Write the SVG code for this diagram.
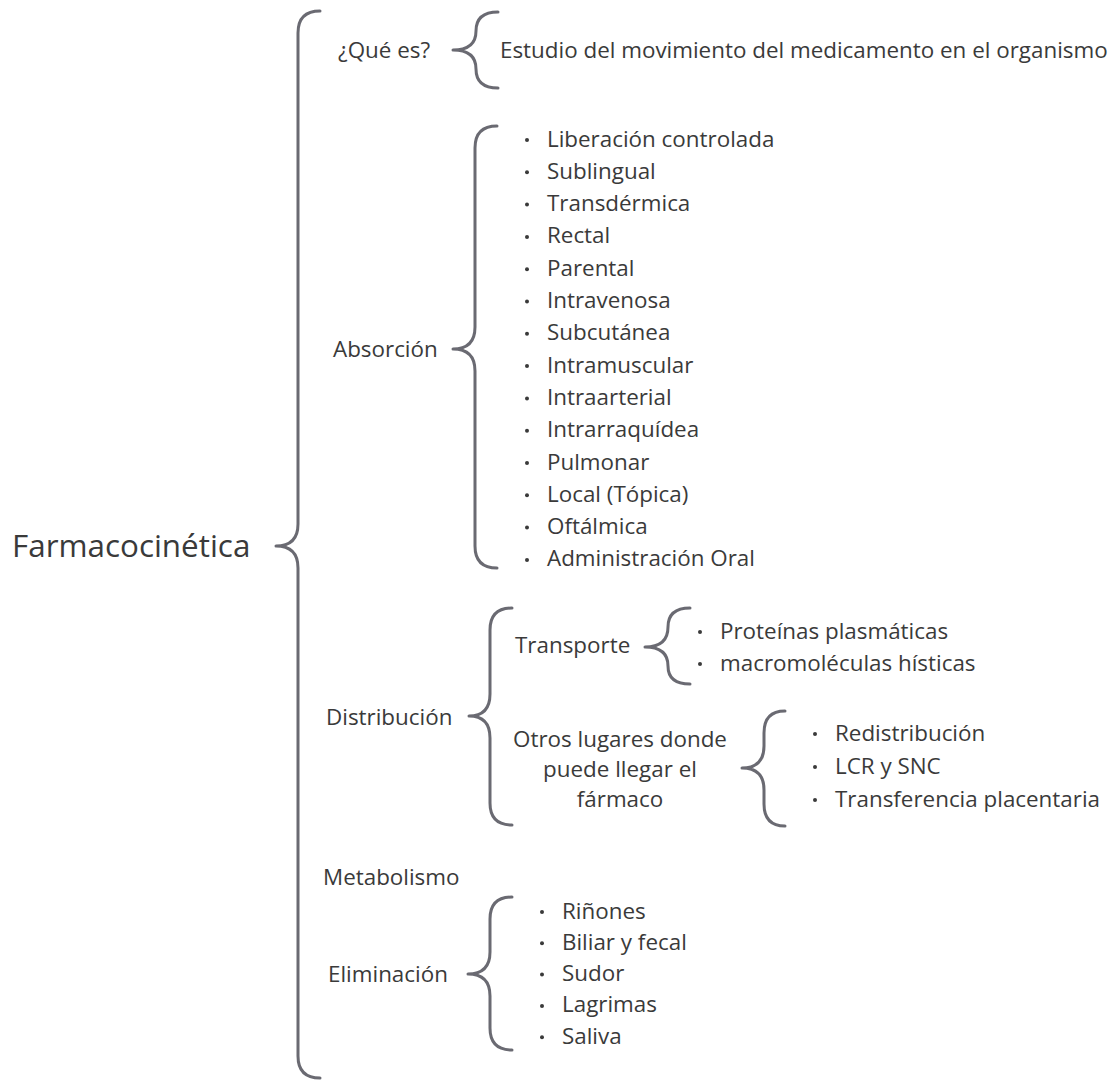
<svg xmlns="http://www.w3.org/2000/svg" width="1120" height="1080" viewBox="0 0 1120 1080">
<style>
text{font-family:"Open Sans","Noto Sans","Liberation Sans",sans-serif;fill:#3a3a3a;font-size:22.4px}
.title{font-size:31.4px}
.br{fill:none;stroke:#6a6a72;stroke-width:3;stroke-linecap:round;stroke-linejoin:round}
.dot{fill:#3a3a3a}
</style>
<rect width="1120" height="1080" fill="#ffffff"/>
<g id="connectors">
<path class="br" d="M320,11 Q298,11 298,33 L298,524 Q298,546 276,546 Q298,546 298,568 L298,1056 Q298,1078 320,1078"/>
<path class="br" d="M498,12 Q476,12 476,31 Q476,50 453,50 Q476,50 476,69 Q476,88 498,88"/>
<path class="br" d="M497,126 Q475,126 475,148 L475,327 Q475,349 453,349 Q475,349 475,371 L475,546 Q475,568 497,568"/>
<path class="br" d="M512,608 Q490,608 490,630 L490,694 Q490,716 469,716 Q490,716 490,738 L490,803 Q490,825 512,825"/>
<path class="br" d="M690,608 Q668,608 668,627 Q668,647 645,647 Q668,647 668,666 Q668,684 690,684"/>
<path class="br" d="M785,711 Q764,711 764,733 L764,746 Q764,768 742,768 Q764,768 764,790 L764,804 Q764,826 785,826"/>
<path class="br" d="M512,897 Q490,897 490,919 L490,952 Q490,974 468,974 Q490,974 490,996 L490,1028 Q490,1050 512,1050"/>
</g>
<g id="root"><text class="title" x="12" y="557">Farmacocinética</text></g>
<g id="que-es"><text x="338" y="58">¿Qué es?</text></g>
<g id="definicion"><text x="500" y="58">Estudio del movimiento del medicamento en el organismo</text></g>
<g id="absorcion"><text x="333" y="357">Absorción</text></g>
<g id="absorcion-items">
<circle class="dot" cx="527" cy="140" r="2"/><text x="547" y="146.5">Liberación controlada</text>
<circle class="dot" cx="527" cy="172.3" r="2"/><text x="547" y="178.8">Sublingual</text>
<circle class="dot" cx="527" cy="204.6" r="2"/><text x="547" y="211.1">Transdérmica</text>
<circle class="dot" cx="527" cy="236.9" r="2"/><text x="547" y="243.4">Rectal</text>
<circle class="dot" cx="527" cy="269.2" r="2"/><text x="547" y="275.7">Parental</text>
<circle class="dot" cx="527" cy="301.5" r="2"/><text x="547" y="308">Intravenosa</text>
<circle class="dot" cx="527" cy="333.8" r="2"/><text x="547" y="340.3">Subcutánea</text>
<circle class="dot" cx="527" cy="366.1" r="2"/><text x="547" y="372.6">Intramuscular</text>
<circle class="dot" cx="527" cy="398.4" r="2"/><text x="547" y="404.9">Intraarterial</text>
<circle class="dot" cx="527" cy="430.7" r="2"/><text x="547" y="437.2">Intrarraquídea</text>
<circle class="dot" cx="527" cy="463" r="2"/><text x="547" y="469.5">Pulmonar</text>
<circle class="dot" cx="527" cy="495.3" r="2"/><text x="547" y="501.8">Local (Tópica)</text>
<circle class="dot" cx="527" cy="527.6" r="2"/><text x="547" y="534.1">Oftálmica</text>
<circle class="dot" cx="527" cy="559.9" r="2"/><text x="547" y="566.4">Administración Oral</text>
</g>
<g id="distribucion"><text x="326" y="725">Distribución</text></g>
<g id="transporte"><text x="515" y="653">Transporte</text></g>
<g id="transporte-items">
<circle class="dot" cx="700" cy="632" r="2"/><text x="720" y="639">Proteínas plasmáticas</text>
<circle class="dot" cx="700" cy="664" r="2"/><text x="720" y="671">macromoléculas hísticas</text>
</g>
<g id="otros"><text x="620" y="747" text-anchor="middle">Otros lugares donde</text><text x="620" y="777" text-anchor="middle">puede llegar el</text><text x="620" y="807" text-anchor="middle">fármaco</text></g>
<g id="otros-items">
<circle class="dot" cx="815" cy="734" r="2"/><text x="835" y="740.5">Redistribución</text>
<circle class="dot" cx="815" cy="767" r="2"/><text x="835" y="773.5">LCR y SNC</text>
<circle class="dot" cx="815" cy="800" r="2"/><text x="835" y="806.5">Transferencia placentaria</text>
</g>
<g id="metabolismo"><text x="323" y="885">Metabolismo</text></g>
<g id="eliminacion"><text x="328" y="982">Eliminación</text></g>
<g id="eliminacion-items">
<circle class="dot" cx="542" cy="912" r="2"/><text x="562" y="918.5">Riñones</text>
<circle class="dot" cx="542" cy="943.3" r="2"/><text x="562" y="949.8">Biliar y fecal</text>
<circle class="dot" cx="542" cy="974.6" r="2"/><text x="562" y="981.1">Sudor</text>
<circle class="dot" cx="542" cy="1005.9" r="2"/><text x="562" y="1012.4">Lagrimas</text>
<circle class="dot" cx="542" cy="1037.2" r="2"/><text x="562" y="1043.7">Saliva</text>
</g>
</svg>
